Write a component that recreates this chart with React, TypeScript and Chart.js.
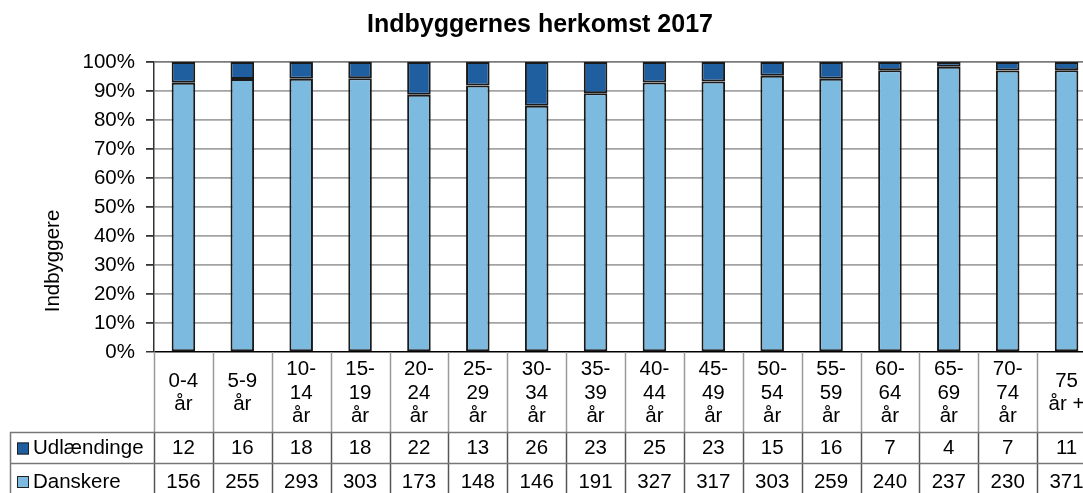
import React, { useEffect, useRef } from "react";
import { Chart, registerables } from "chart.js";

Chart.register(...registerables);

const title = "Indbyggernes herkomst 2017";
const yAxisTitle = "Indbyggere";
const categories: string[][] = [
  ["0-4", "år"], ["5-9", "år"], ["10-", "14", "år"], ["15-", "19", "år"],
  ["20-", "24", "år"], ["25-", "29", "år"], ["30-", "34", "år"], ["35-", "39", "år"],
  ["40-", "44", "år"], ["45-", "49", "år"], ["50-", "54", "år"], ["55-", "59", "år"],
  ["60-", "64", "år"], ["65-", "69", "år"], ["70-", "74", "år"], ["75", "år +"],
];
const udlaendinge = [12, 16, 18, 18, 22, 13, 26, 23, 25, 23, 15, 16, 7, 4, 7, 11];
const danskere = [156, 255, 293, 303, 173, 148, 146, 191, 327, 317, 303, 259, 240, 237, 230, 371];
const seriesNames = ["Udlændinge", "Danskere"];

const DARK = "#1F5FA0";
const LIGHT = "#7DBAE0";
const FONT = "'Liberation Sans', Arial, sans-serif";

export default function App() {
  const ref = useRef<HTMLCanvasElement>(null);
  useEffect(() => {
    const canvas = ref.current!;
    const totals = danskere.map((d, i) => d + udlaendinge[i]);
    const pctD = danskere.map((d, i) => (d / totals[i]) * 100);
    const pctU = udlaendinge.map((u, i) => (u / totals[i]) * 100);

    const tablePlugin = {
      id: "tablePlugin",
      afterDraw(chart: any) {
        const ctx = chart.ctx as CanvasRenderingContext2D;
        const ca = chart.chartArea;
        const xs = chart.scales.x;
        const catW = xs.getPixelForValue(1) - xs.getPixelForValue(0);
        const left = xs.getPixelForValue(0) - catW / 2;
        const top0 = ca.bottom;
        const r1 = top0 + 80;
        const r2 = r1 + 31;
        const bottom = chart.height + 20;
        const rightEdge = left + catW * categories.length;
        ctx.save();
        // title
        ctx.fillStyle = "#000";
        ctx.font = `bold 25px ${FONT}`;
        ctx.textAlign = "center";
        ctx.textBaseline = "alphabetic";
        ctx.fillText(title, 540, 32);
        // y axis title
        ctx.save();
        ctx.translate(53, 261);
        ctx.rotate(-Math.PI / 2);
        ctx.font = `20.5px ${FONT}`;
        ctx.textBaseline = "middle";
        ctx.fillText(yAxisTitle, 0, 0);
        ctx.restore();
        // vertical lines
        for (let i = 0; i <= categories.length; i++) {
          const x = Math.round(left + i * catW) + 0.5;
          ctx.strokeStyle = "#9a9a9a";
          ctx.lineWidth = 1.5;
          ctx.beginPath();
          ctx.moveTo(x, top0);
          ctx.lineTo(x, r1);
          ctx.stroke();
          ctx.strokeStyle = "#555";
          ctx.beginPath();
          ctx.moveTo(x, r1);
          ctx.lineTo(x, bottom);
          ctx.stroke();
        }
        // horizontal lines and left border
        ctx.strokeStyle = "#777";
        ctx.lineWidth = 1.5;
        ctx.beginPath();
        ctx.moveTo(10, r1 + 0.5);
        ctx.lineTo(rightEdge, r1 + 0.5);
        ctx.moveTo(10, r2 + 0.5);
        ctx.lineTo(rightEdge, r2 + 0.5);
        ctx.moveTo(10.5, r1);
        ctx.lineTo(10.5, bottom);
        ctx.stroke();
        // category labels
        ctx.font = `20.5px ${FONT}`;
        ctx.textAlign = "center";
        ctx.textBaseline = "middle";
        ctx.fillStyle = "#000";
        const midLabel = (top0 + r1) / 2 + 1;
        const lh = 23.5;
        categories.forEach((lines, i) => {
          const cx = xs.getPixelForValue(i);
          const start = midLabel - ((lines.length - 1) * lh) / 2;
          lines.forEach((ln, j) => ctx.fillText(ln, cx, start + j * lh));
        });
        // values
        const rowMidU = (r1 + r2) / 2 + 1;
        const rowMidD = r2 + 19;
        udlaendinge.forEach((v, i) => ctx.fillText(String(v), xs.getPixelForValue(i), rowMidU));
        danskere.forEach((v, i) => ctx.fillText(String(v), xs.getPixelForValue(i), rowMidD));
        // legend keys
        const keys = [
          { name: seriesNames[0], color: DARK, y: rowMidU },
          { name: seriesNames[1], color: LIGHT, y: rowMidD },
        ];
        keys.forEach((k) => {
          ctx.fillStyle = k.color;
          ctx.fillRect(17, k.y - 6, 12, 12);
          ctx.strokeStyle = "#222";
          ctx.lineWidth = 1;
          ctx.strokeRect(17.5, k.y - 5.5, 11, 11);
          ctx.fillStyle = "#000";
          ctx.textAlign = "left";
          ctx.fillText(k.name, 33, k.y);
        });
        ctx.restore();
      },
    };

    const chart = new Chart(canvas, {
      type: "bar",
      data: {
        labels: categories,
        datasets: [
          {
            label: seriesNames[1],
            data: pctD,
            backgroundColor: LIGHT,
            borderColor: "#1a1a1a",
            borderWidth: 2,
            borderSkipped: false,
            barPercentage: 0.4,
            categoryPercentage: 1,
          },
          {
            label: seriesNames[0],
            data: pctU,
            backgroundColor: DARK,
            borderColor: "#1a1a1a",
            borderWidth: 2,
            borderSkipped: false,
            barPercentage: 0.4,
            categoryPercentage: 1,
          },
        ],
      },
      options: {
        responsive: false,
        maintainAspectRatio: false,
        animation: false,
        devicePixelRatio: 1,
        layout: { padding: { top: 62, bottom: 141, left: 0, right: 14 } },
        plugins: { legend: { display: false }, title: { display: false }, tooltip: { enabled: false } },
        scales: {
          x: { stacked: true, display: false },
          y: {
            stacked: true,
            min: 0,
            max: 100,
            afterFit: (s: any) => {
              s.width = 154;
            },
            ticks: {
              stepSize: 10,
              padding: 11,
              color: "#000",
              font: { family: FONT, size: 20.5 },
              callback: (v: any) => v + "%",
            },
            grid: {
              color: (c: any) => (c.tick && c.tick.value === 0 ? "#000" : c.tick && c.tick.value === 100 ? "#7a7a7a" : "#a3a3a3"),
              lineWidth: (c: any) => (c.tick && c.tick.value === 0 ? 1.5 : 1.8),
              tickColor: "#333",
              tickLength: 8,
              drawTicks: true,
            },
            border: { display: true, color: "#333", width: 1.5 },
          },
        },
      },
      plugins: [tablePlugin],
    });
    return () => chart.destroy();
  }, []);

  return (
    <div style={{ position: "fixed", left: 0, top: 0, width: 1083, height: 493, overflow: "hidden", background: "#fff" }}>
      <canvas ref={ref} width={1110} height={493} style={{ display: "block" }} />
    </div>
  );
}
